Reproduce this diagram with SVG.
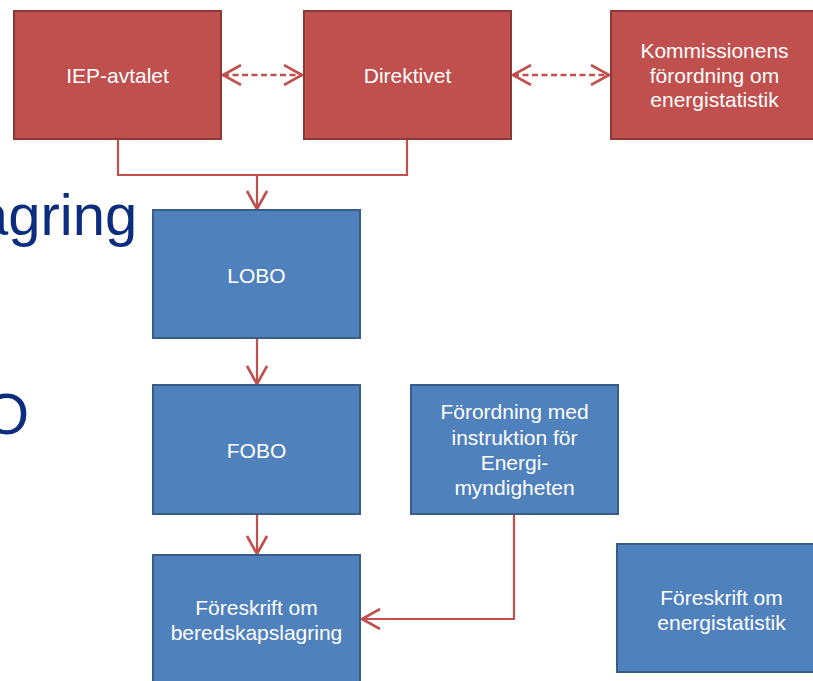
<svg xmlns="http://www.w3.org/2000/svg" width="813" height="681" viewBox="0 0 813 681">
<defs>
<style>
.red{fill:#C0504D;stroke:#8C3836;stroke-width:2}
.blue{fill:#4F81BD;stroke:#385D8A;stroke-width:2}
.lbl{font-family:"Liberation Sans",Arial,sans-serif;font-size:21px;fill:#FFFFFF;text-anchor:middle}
.bg{font-family:"Liberation Sans",Arial,sans-serif;font-size:58px;fill:#0C2D7E}
.con{fill:none;stroke:#C0504D;stroke-width:2.2}
.dash{stroke-dasharray:6 3.5;stroke-width:2.6}
</style>
<marker id="ah" viewBox="0 0 20 22" refX="19" refY="11" markerWidth="20" markerHeight="22" markerUnits="userSpaceOnUse" orient="auto-start-reverse">
<path d="M1,1 L19,11 L1,21" fill="none" stroke="#C0504D" stroke-width="2.6"/>
</marker>
</defs>
<rect width="813" height="681" fill="#FFFFFF"/>
<text class="bg" x="-24" y="235">agring</text>
<text class="bg" x="-16" y="434">O</text>
<g id="connectors">
<path class="con" d="M118,139 V175 H407 V139"/>
<path class="con" d="M257,175 V209" marker-end="url(#ah)"/>
<path class="con dash" d="M223,75 H302" marker-start="url(#ah)" marker-end="url(#ah)"/>
<path class="con dash" d="M513,75 H609" marker-start="url(#ah)" marker-end="url(#ah)"/>
<path class="con" d="M257,338 V384" marker-end="url(#ah)"/>
<path class="con" d="M257,514 V554" marker-end="url(#ah)"/>
<path class="con" d="M514,514 V619 H362" marker-end="url(#ah)"/>
</g>
<g id="iep">
<rect class="red" x="14" y="11" width="207" height="128"/>
<text class="lbl" x="117.5" y="82.5">IEP-avtalet</text>
</g>
<g id="direktivet">
<rect class="red" x="304" y="11" width="207" height="128"/>
<text class="lbl" x="407.5" y="82.5">Direktivet</text>
</g>
<g id="kommissionens">
<rect class="red" x="611" y="11" width="207" height="128"/>
<text class="lbl" x="714.5" y="57.5">Kommissionens</text>
<text class="lbl" x="714.5" y="82.5">förordning om</text>
<text class="lbl" x="714.5" y="107">energistatistik</text>
</g>
<g id="lobo">
<rect class="blue" x="153" y="210" width="207" height="128"/>
<text class="lbl" x="256.5" y="282.5">LOBO</text>
</g>
<g id="fobo">
<rect class="blue" x="153" y="385" width="207" height="129"/>
<text class="lbl" x="256.5" y="458">FOBO</text>
</g>
<g id="foreskrift-beredskap">
<rect class="blue" x="153" y="555" width="207" height="130"/>
<text class="lbl" x="256.5" y="615">Föreskrift om</text>
<text class="lbl" x="256.5" y="639.5">beredskapslagring</text>
</g>
<g id="forordning">
<rect class="blue" x="411" y="385" width="207" height="129"/>
<text class="lbl" x="514.5" y="419">Förordning med</text>
<text class="lbl" x="514.5" y="444.5">instruktion för</text>
<text class="lbl" x="514.5" y="470">Energi-</text>
<text class="lbl" x="514.5" y="495">myndigheten</text>
</g>
<g id="foreskrift-energi">
<rect class="blue" x="617" y="544" width="209" height="128"/>
<text class="lbl" x="721.5" y="605">Föreskrift om</text>
<text class="lbl" x="721.5" y="629.5">energistatistik</text>
</g>
</svg>
